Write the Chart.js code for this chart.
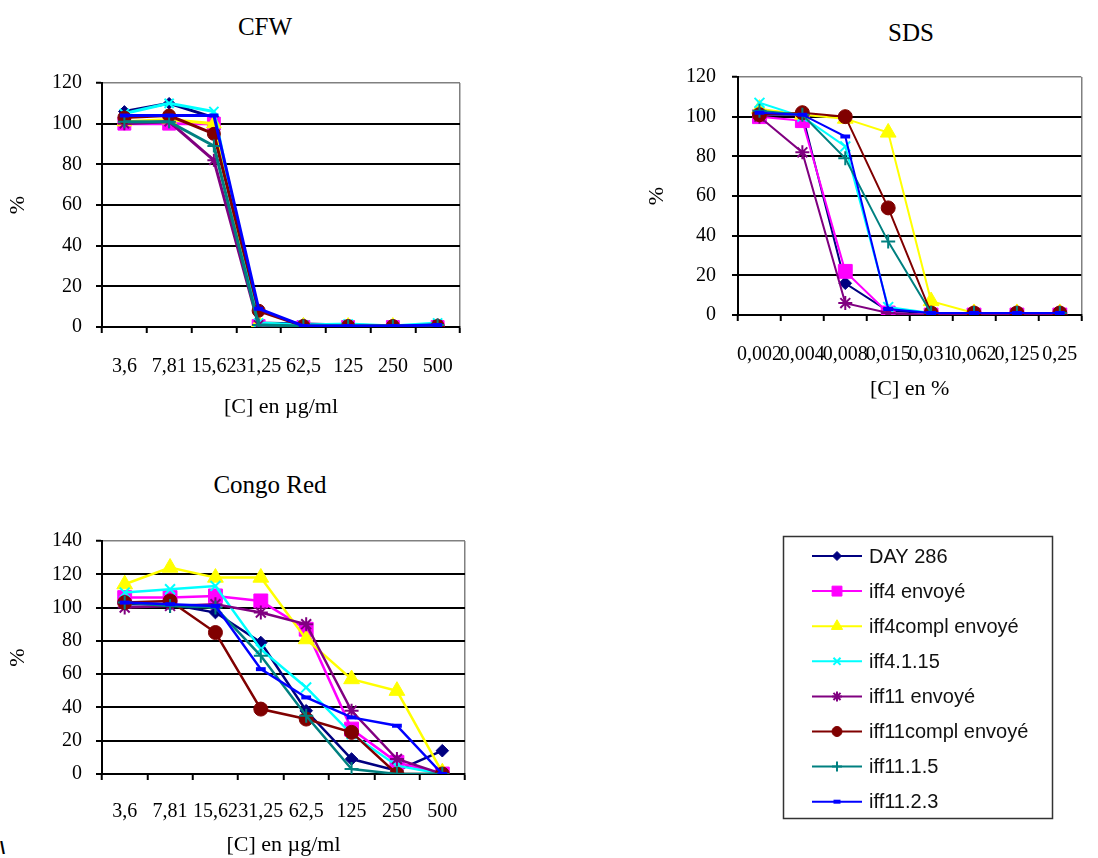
<!DOCTYPE html>
<html>
<head>
<meta charset="utf-8">
<script src="https://cdn.jsdelivr.net/npm/chart.js@4.4.0/dist/chart.umd.min.js"></script>
<style>
    html, body { margin: 0; padding: 0; background: #fff; }
    body { position: relative; width: 1098px; height: 858px; overflow: hidden; }
    .box { position: absolute; }
    .title {
        position: absolute;
        font-family: "Liberation Serif", "Times New Roman", serif;
        font-size: 25px;
        color: #000;
        transform: translate(-50%, -50%);
        white-space: nowrap;
    }
    .mark { position: absolute; left: 0; top: 838px; font: bold 18px "Liberation Sans", Arial, sans-serif; }
</style>
</head>
<body>
<div class="title" style="left:265px; top:27px">CFW</div>
<div class="title" style="left:911px; top:33px">SDS</div>
<div class="title" style="left:270px; top:485px">Congo Red</div>
<div class="mark">\</div>

<div class="box" style="left:0; top:0; width:480px; height:440px"><canvas id="cfwChart"></canvas></div>
<div class="box" style="left:630px; top:0; width:470px; height:420px"><canvas id="sdsChart"></canvas></div>
<div class="box" style="left:0; top:460px; width:480px; height:398px"><canvas id="congoChart"></canvas></div>
<div class="box" style="left:770px; top:525px; width:300px; height:310px"><canvas id="legendChart"></canvas></div>

<script>
// =====================
// Data
// =====================
const seriesNames = ['DAY 286', 'iff4 envoyé', 'iff4compl envoyé', 'iff4.1.15',
    'iff11 envoyé', 'iff11compl envoyé', 'iff11.1.5', 'iff11.2.3'];
const seriesColors = ['#000080', '#ff00ff', '#ffff00', '#00ffff',
    '#800080', '#800000', '#008080', '#0000ff'];
const seriesPoints = ['rectRot', 'rect', 'triangle', 'crossRot', 'star', 'circle', 'cross', 'line'];

const ugLabels = ['3,6', '7,81', '15,62', '31,25', '62,5', '125', '250', '500'];
const sdsLabels = ['0,002', '0,004', '0,008', '0,015', '0,031', '0,062', '0,125', '0,25'];

// CFW, one row per series
const cfwDay286     = [106, 110, 103, 2, 1.5, 1, 0.5, 1];
const cfwIff4       = [100, 100, 100, 0.5, 0, 0, 0, 0];
const cfwIff4compl  = [101, 102, 100, 2, 0.5, 0.5, 0.5, 0];
const cfwIff4115    = [105, 110, 106, 2, 1, 1.5, 0.5, 2];
const cfwIff11      = [100, 101, 82, 1, 0, 0, 0, 1];
const cfwIff11compl = [103, 104, 95, 8, 0.5, 0.5, 0.5, 0.5];
const cfwIff1115    = [101, 101, 89, 1, 0.5, 0.5, 0.5, 1];
const cfwIff1123    = [104, 104, 104, 9, 0.5, 0.5, 0.5, 1];

// SDS
const sdsDay286     = [101, 101, 16, 2, 1, 0.5, 0.5, 0.5];
const sdsIff4       = [100, 98, 22, 1, 0, 0, 0, 0];
const sdsIff4compl  = [104, 101, 99, 92, 7, 1, 1, 1];
const sdsIff4115    = [107, 100, 85, 4, 1, 0.5, 0.5, 0.5];
const sdsIff11      = [100, 82, 6, 1, 0, 0, 0, 0];
const sdsIff11compl = [101, 102, 100, 54, 1, 1, 1, 1];
const sdsIff1115    = [103, 101, 79, 37, 1, 1, 1, 1];
const sdsIff1123    = [102, 101, 90, 3, 1, 1, 1, 1];

// Congo Red
const crDay286     = [102, 102, 97, 79, 38, 9, 2, 14];
const crIff4       = [106, 106, 107, 104, 87, 27, 7, 0];
const crIff4compl  = [114, 124, 118, 118, 81, 57, 50, 1];
const crIff4115    = [109, 111, 113, 75, 52, 24, 5, 0];
const crIff11      = [100, 101, 102, 97, 90, 38, 9, 0];
const crIff11compl = [103, 104, 85, 39, 33, 25, 0, 0];
const crIff1115    = [103, 101, 100, 71, 35, 3, 0, 0];
const crIff1123    = [103, 102, 101, 63, 46, 34, 29, 0];

// =====================
// Shared styles
// =====================
const serif = '"Liberation Serif", "Times New Roman", serif';
const tickFont = { family: serif, size: 20 };
const axisTitleFont = { family: serif, size: 22 };

// marker size relative to a circle of the same "radius"
const pointScale = { rectRot: 0.9, rect: 1.4, triangle: 1.3, crossRot: 1, star: 1, circle: 1, cross: 1, line: 0.7 };

function pointBorder(style) {
    if (style === 'line') return 4;
    if (style === 'crossRot' || style === 'star' || style === 'cross') return 2;
    return 1;
}

function makeDatasets(rows, lineWidth, radius) {
    return rows.map((values, i) => ({
        label: seriesNames[i],
        data: values,
        borderColor: seriesColors[i],
        backgroundColor: seriesColors[i],
        borderWidth: lineWidth,
        pointStyle: seriesPoints[i],
        pointRadius: radius * pointScale[seriesPoints[i]],
        pointBorderWidth: pointBorder(seriesPoints[i]),
        pointBorderColor: seriesColors[i],
        pointBackgroundColor: seriesColors[i],
        tension: 0,
        order: rows.length - i // later series drawn on top, like the original
    }));
}

function makeChart(id, labels, rows, cfg) {
    const ctx = document.getElementById(id).getContext('2d');
    return new Chart(ctx, {
        type: 'line',
        data: { labels: labels, datasets: makeDatasets(rows, cfg.lineWidth, cfg.radius) },
        options: {
            responsive: true,
            maintainAspectRatio: false,
            animation: false,
            layout: { padding: { top: cfg.top, right: cfg.right, bottom: 0, left: 0 } },
            plugins: { legend: { display: false }, tooltip: { enabled: false } },
            scales: {
                x: {
                    offset: true,
                    afterFit: s => { s.height = cfg.xHeight; },
                    ticks: { autoSkip: false, maxRotation: 0, minRotation: 0, padding: cfg.xTickPad, color: '#000', font: tickFont },
                    grid: {
                        offset: true,
                        color: c => c.tick ? 'rgba(0,0,0,0)' : '#808080',
                        lineWidth: 1.5,
                        tickLength: 6,
                        tickWidth: 2,
                        tickColor: '#000'
                    },
                    border: { color: '#000', width: 2 },
                    title: { display: true, text: cfg.xTitle, color: '#000', font: axisTitleFont, padding: { top: 0, bottom: cfg.xTitlePad } }
                },
                y: {
                    min: 0,
                    max: cfg.yMax,
                    afterFit: s => { s.width = cfg.yWidth; },
                    ticks: { stepSize: 20, padding: cfg.yTickPad, color: '#000', font: tickFont },
                    grid: {
                        color: c => (c.tick && c.tick.value === cfg.yMax) ? '#808080' : '#000',
                        lineWidth: c => (c.tick && c.tick.value === cfg.yMax) ? 1.5 : 2,
                        tickLength: 6,
                        tickWidth: 2,
                        tickColor: '#000'
                    },
                    border: { color: '#000', width: 2 },
                    title: { display: true, text: '%', color: '#000', font: axisTitleFont, padding: { top: cfg.yTitlePad, bottom: 0 } }
                }
            }
        }
    });
}

// =====================
// Legend drawn as its own small chart
// =====================
const lineLegend = {
    id: 'lineLegend',
    afterDraw(chart) {
        const ctx = chart.ctx;
        ctx.save();
        ctx.strokeStyle = '#333';
        ctx.lineWidth = 1.5;
        ctx.strokeRect(13.5, 11.5, 269, 282);
        ctx.font = '20px "Liberation Sans", Arial, sans-serif';
        ctx.textBaseline = 'middle';
        chart.data.datasets.forEach((ds, i) => {
            const y = 31 + i * 35.1;
            ctx.strokeStyle = ds.borderColor;
            ctx.lineWidth = 2;
            ctx.beginPath();
            ctx.moveTo(42, y);
            ctx.lineTo(92, y);
            ctx.stroke();
            ctx.fillStyle = ds.backgroundColor;
            ctx.lineWidth = ds.pointBorderWidth;
            Chart.helpers.drawPoint(ctx, {
                pointStyle: ds.pointStyle,
                radius: ds.pointRadius,
                rotation: 0,
                borderWidth: ds.pointBorderWidth
            }, 67, y);
            ctx.fillStyle = '#111';
            ctx.fillText(ds.label, 99, y + 1);
        });
        ctx.restore();
    }
};

function initLegend() {
    const ctx = document.getElementById('legendChart').getContext('2d');
    new Chart(ctx, {
        type: 'line',
        data: { labels: [], datasets: makeDatasets(seriesNames.map(() => []), 2, 5) },
        options: {
            responsive: true,
            maintainAspectRatio: false,
            animation: false,
            plugins: { legend: { display: false }, tooltip: { enabled: false } },
            scales: { x: { display: false }, y: { display: false } }
        },
        plugins: [lineLegend]
    });
}

// =====================
// Build page
// =====================
function initPage() {
    makeChart('cfwChart', ugLabels,
        [cfwDay286, cfwIff4, cfwIff4compl, cfwIff4115, cfwIff11, cfwIff11compl, cfwIff1115, cfwIff1123],
        { lineWidth: 3, radius: 6.5, top: 83, right: 20, yWidth: 102, xHeight: 113, yMax: 120,
          xTickPad: 22, xTitlePad: 20, yTitlePad: 5, yTickPad: 14, xTitle: '[C] en µg/ml' });

    makeChart('sdsChart', sdsLabels,
        [sdsDay286, sdsIff4, sdsIff4compl, sdsIff4115, sdsIff11, sdsIff11compl, sdsIff1115, sdsIff1123],
        { lineWidth: 2, radius: 7, top: 77, right: 2, yWidth: 108, xHeight: 105, yMax: 120,
          xTickPad: 22, xTitlePad: 18, yTitlePad: 14, yTickPad: 16, xTitle: '[C] en %' });

    makeChart('congoChart', ugLabels,
        [crDay286, crIff4, crIff4compl, crIff4115, crIff11, crIff11compl, crIff1115, crIff1123],
        { lineWidth: 2.5, radius: 7, top: 81, right: 15, yWidth: 102, xHeight: 84, yMax: 140,
          xTickPad: 20, xTitlePad: 0, yTitlePad: 5, yTickPad: 14, xTitle: '[C] en µg/ml' });

    initLegend();
}

window.onload = initPage;
</script>
</body>
</html>
